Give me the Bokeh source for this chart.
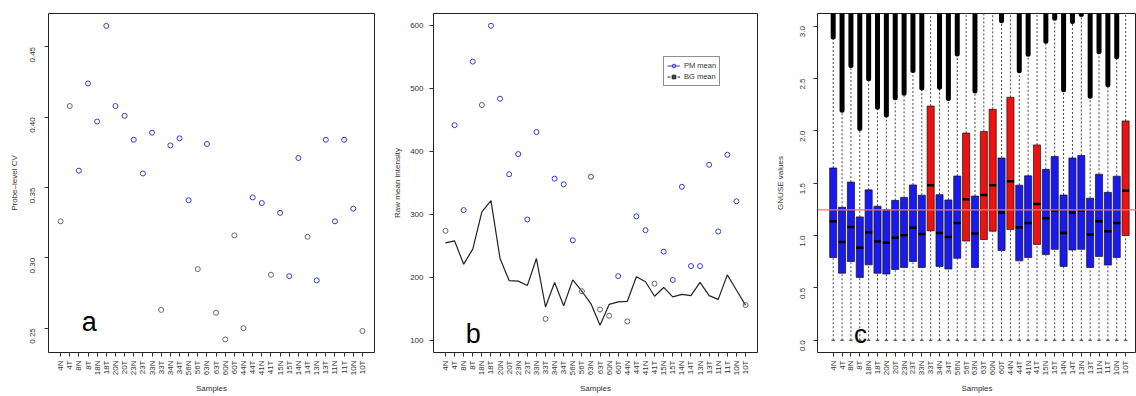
import math

from bokeh.embed import file_html
from bokeh.layouts import row
from bokeh.models import (ColumnDataSource, FixedTicker, Label, Legend, LegendItem,
                          PrintfTickFormatter, Range1d, Span)
from bokeh.plotting import figure
from bokeh.resources import INLINE

# ---------------------------------------------------------------- data
samples = ["4N", "4T", "8N", "8T", "18N", "18T", "20N", "20T", "23N", "23T",
           "33N", "33T", "34N", "34T", "56N", "56T", "63N", "63T", "60N", "60T",
           "44N", "44T", "41N", "41T", "15N", "15T", "14N", "14T", "13N", "13T",
           "11N", "11T", "10N", "10T"]

# (a) probe-level coefficient of variation
probe_cv = [0.326, 0.408, 0.362, 0.424, 0.397, 0.465, 0.408, 0.401, 0.384, 0.360,
            0.389, 0.263, 0.380, 0.385, 0.341, 0.292, 0.381, 0.261, 0.242, 0.316,
            0.250, 0.343, 0.339, 0.288, 0.332, 0.287, 0.371, 0.315, 0.284, 0.384,
            0.326, 0.384, 0.335, 0.248]
cv_grey = ["4N", "4T", "33T", "56T", "63T", "60N", "60T", "44N", "41T", "14T", "10T"]

# (b) raw mean intensities
pm_mean = [274, 442, 307, 543, 474, 600, 484, 364, 396, 292,
           431, 134, 357, 348, 259, 178, 360, 149, 139, 202,
           130, 297, 275, 190, 241, 196, 344, 218, 218, 379,
           273, 395, 321, 156]
bg_mean = [255, 258, 221, 245, 304, 322, 230, 195, 194, 187,
           230, 153, 192, 155, 196, 178, 158, 124, 157, 161,
           162, 201, 193, 170, 184, 169, 173, 171, 192, 171,
           165, 204, 180, 156]
pm_grey = ["4N", "18N", "33T", "56T", "63T", "60N", "44N", "41T", "10T"]

# (c) GNUSE distributions per array
gnuse_q1 = [0.790, 0.640, 0.752, 0.600, 0.720, 0.640, 0.632, 0.676, 0.695, 0.752,
            0.695, 1.045, 0.705, 0.680, 0.783, 0.947, 0.695, 0.962, 1.041, 0.858,
            1.057, 0.758, 0.790, 0.915, 0.818, 0.868, 0.705, 0.862, 0.868, 0.695,
            0.800, 0.718, 0.790, 1.000]
gnuse_median = [1.136, 0.938, 1.082, 0.884, 1.032, 0.943, 0.931, 0.978, 1.002, 1.075,
                1.015, 1.481, 1.025, 0.985, 1.120, 1.346, 1.019, 1.386, 1.481, 1.220,
                1.519, 1.080, 1.120, 1.300, 1.166, 1.240, 1.025, 1.220, 1.240, 1.009,
                1.137, 1.040, 1.120, 1.427]
gnuse_q3 = [1.645, 1.270, 1.510, 1.178, 1.436, 1.280, 1.248, 1.336, 1.364, 1.483,
            1.385, 2.236, 1.390, 1.340, 1.568, 1.978, 1.377, 1.994, 2.205, 1.740,
            2.320, 1.481, 1.570, 1.865, 1.632, 1.755, 1.387, 1.740, 1.764, 1.356,
            1.585, 1.412, 1.566, 2.094]
# smallest outlier above the upper whisker (None: whisker runs past the axis top)
gnuse_outlier_min = [2.896, 2.195, 2.623, 2.023, 2.497, 2.226, 2.151, 2.315, 2.358, 2.576,
                     2.409, None, 2.415, 2.308, 2.733, None, 2.380, None, None, 3.050,
                     None, 2.573, 2.730, None, 2.856, 3.075, 2.393, 3.044, 3.110, 2.330,
                     2.755, 2.440, 2.708, None]
gnuse_min = 0.0
gnuse_max = 3.4
gnuse_flagged = ["33T", "56T", "63T", "60N", "44N", "41T", "10T"]
gnuse_reference = 1.245

# ---------------------------------------------------------------- styling helpers
FONT = "Liberation Sans"
TXT = "#333333"
BLUE = "#3a3ad0"
GREY = "#666666"
xs = list(range(1, len(samples) + 1))


def base_figure(width, x_range, y_range, left, right):
    p = figure(width=width, height=396, x_range=x_range, y_range=y_range,
               output_backend="svg", toolbar_location=None,
               min_border_left=left, min_border_right=right,
               min_border_top=13, min_border_bottom=39)
    p.grid.visible = False
    p.outline_line_color = "#222222"
    p.outline_line_width = 1
    p.background_fill_color = "white"
    p.border_fill_color = "white"
    for ax in (p.xaxis[0], p.yaxis[0]):
        ax.axis_line_color = None
        ax.major_tick_line_color = TXT
        ax.major_tick_in = 0
        ax.major_tick_out = 4
        ax.minor_tick_line_color = None
        ax.major_label_text_font = FONT
        ax.major_label_text_color = TXT
        ax.major_label_text_font_size = "8px"
        ax.axis_label_text_font = FONT
        ax.axis_label_text_color = TXT
        ax.axis_label_text_font_size = "8px"
        ax.axis_label_text_font_style = "normal"
    p.xaxis.ticker = FixedTicker(ticks=xs)
    p.xaxis.major_label_overrides = {i: s for i, s in zip(xs, samples)}
    p.xaxis.major_label_orientation = math.pi / 2
    p.xaxis.major_label_standoff = 4
    p.xaxis.axis_label = "Samples"
    p.xaxis.axis_label_standoff = 6
    return p


def panel_tag(p, text, x, y, size):
    p.add_layout(Label(x=x, y=y, text=text, text_font=FONT, text_font_size=size,
                       text_color="black", text_align="center",
                       text_baseline="alphabetic"))


# ---------------------------------------------------------------- (a) probe-level CV
pa = base_figure(385, Range1d(-0.32, 35.32), Range1d(0.2327, 0.4738), 48, 11)
src_a = ColumnDataSource(dict(x=xs, y=probe_cv,
                              c=[GREY if s in cv_grey else BLUE for s in samples]))
pa.scatter("x", "y", source=src_a, marker="circle", size=5, fill_color=None,
           line_color="c", line_width=1)
pa.yaxis.ticker = FixedTicker(ticks=[0.25, 0.30, 0.35, 0.40, 0.45])
pa.yaxis.formatter = PrintfTickFormatter(format="%.2f")
pa.yaxis.major_label_orientation = math.pi / 2
pa.yaxis.major_label_standoff = 12
pa.yaxis.axis_label = "Probe–level CV"
pa.yaxis.axis_label_standoff = 6
panel_tag(pa, "a", 4.14, 0.2545, "27px")

# ---------------------------------------------------------------- (b) raw intensities
pb = base_figure(385, Range1d(-0.32, 35.32), Range1d(80.6, 619.5), 48, 13)
src_b = ColumnDataSource(dict(x=xs, pm=pm_mean, bg=bg_mean,
                              c=[GREY if s in pm_grey else BLUE for s in samples]))
pb.line("x", "bg", source=src_b, line_color="#222222", line_width=1.2)
pb.scatter("x", "pm", source=src_b, marker="circle", size=5, fill_color=None,
           line_color="c", line_width=1)

# legend keys (single undefined point, so only the legend shows them)
key_src = ColumnDataSource(dict(x=[float("nan")], y=[float("nan")]))
pm_key_line = pb.line("x", "y", source=key_src, line_color=BLUE, line_width=1)
pm_key_pt = pb.scatter("x", "y", source=key_src, marker="circle", size=5,
                       fill_color=None, line_color=BLUE, line_width=1)
bg_key_line = pb.line("x", "y", source=key_src, line_color="#222222", line_width=1,
                      line_dash="3 2")
bg_key_pt = pb.scatter("x", "y", source=key_src, marker="square", size=4,
                       fill_color="#444444", line_color="#222222")
legend = Legend(items=[LegendItem(label="PM mean", renderers=[pm_key_line, pm_key_pt]),
                       LegendItem(label="BG mean", renderers=[bg_key_line, bg_key_pt])],
                location=(230, 266), orientation="vertical",
                label_text_font=FONT, label_text_font_size="7.5px",
                label_text_color=TXT, glyph_width=13, glyph_height=9,
                label_height=11, label_standoff=4, padding=3, spacing=0, margin=0,
                border_line_color="#222222", border_line_width=1,
                background_fill_color="white", background_fill_alpha=1)
pb.add_layout(legend)

pb.yaxis.ticker = FixedTicker(ticks=[100, 200, 300, 400, 500, 600])
pb.yaxis.major_label_standoff = 6
pb.yaxis.axis_label = "Raw mean intensity"
pb.yaxis.axis_label_standoff = 5
panel_tag(pb, "b", 4.05, 110.0, "27px")

# ---------------------------------------------------------------- (c) GNUSE boxplots
pc = base_figure(366, Range1d(-0.772, 35.23), Range1d(-0.117, 3.12), 47, 0)
box_half = 0.4
has_out = [v is not None for v in gnuse_outlier_min]
src_c = ColumnDataSource(dict(
    x=xs,
    x0=[x - box_half for x in xs], x1=[x + box_half for x in xs],
    s0=[x - box_half / 2 for x in xs], s1=[x + box_half / 2 for x in xs],
    q1=gnuse_q1, med=gnuse_median, q3=gnuse_q3,
    lo=[gnuse_min] * len(xs),
    hi=[v if v is not None else gnuse_max for v in gnuse_outlier_min],
    c=["#ee1111" if s in gnuse_flagged else "#1a1aee" for s in samples]))
out_x = [x for x, h in zip(xs, has_out) if h]
out_lo = [v for v in gnuse_outlier_min if v is not None]
src_out = ColumnDataSource(dict(x=out_x, lo=out_lo, hi=[gnuse_max] * len(out_x)))

whisk = dict(line_color="#333333", line_width=0.9, line_dash="2 2")
pc.segment("x", "lo", "x", "q1", source=src_c, **whisk)
pc.segment("x", "q3", "x", "hi", source=src_c, **whisk)
pc.segment("s0", "lo", "s1", "lo", source=src_c, line_color="#333333", line_width=1)
pc.segment("x", "lo", "x", "hi", source=src_out, line_color="black", line_width=5,
           line_cap="round")
pc.vbar(x="x", width=2 * box_half, bottom="q1", top="q3", source=src_c,
        fill_color="c", line_color="#111111", line_width=0.7)
pc.segment("x0", "med", "x1", "med", source=src_c, line_color="black", line_width=2.5)
pc.add_layout(Span(location=gnuse_reference, dimension="width",
                   line_color="#f07575", line_width=1.2))

pc.yaxis.ticker = FixedTicker(ticks=[0.0, 0.5, 1.0, 1.5, 2.0, 2.5, 3.0])
pc.yaxis.formatter = PrintfTickFormatter(format="%.1f")
pc.yaxis.major_label_orientation = math.pi / 2
pc.yaxis.major_label_standoff = 11
pc.yaxis.axis_label = "GNUSE values"
pc.yaxis.axis_label_standoff = 10
panel_tag(pc, "c", 4.08, 0.06, "26px")

layout = row(pa, pb, pc, spacing=0)
open("out.html", "w").write(file_html(layout, INLINE))
